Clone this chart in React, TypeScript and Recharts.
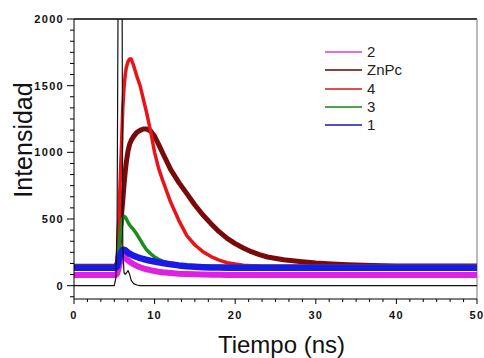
import React from 'react';
import { LineChart, Line, XAxis, YAxis, ReferenceLine } from 'recharts';

// time (ns)
const T = [0, 5.0, 5.2, 5.35, 5.5, 5.65, 5.8, 5.95, 6.05, 6.2, 6.35, 6.5, 6.7, 6.9, 7.1, 7.4, 7.8, 8.2, 8.6, 9.0, 9.5, 10, 10.5, 11, 12, 13, 14, 15, 16, 17, 18, 19, 20, 21, 22, 23, 24, 26, 28, 30, 32, 34, 37, 40, 45, 50];
// instrument response (black, not in legend)
const IRF = [0, 0, 60, 500, 2600, 2600, 2600, 2600, 300, 100, 85, 95, 113, 85, 40, 15, 5, 0, 0, 0, 0, 0, 0, 0, 0, 0, 0, 0, 0, 0, 0, 0, 0, 0, 0, 0, 0, 0, 0, 0, 0, 0, 0, 0, 0, 0];
// series "4"
const S4 = [146, 146, 150, 180, 350, 650, 900, 1150, 1330, 1480, 1580, 1640, 1680, 1700, 1700, 1650, 1570, 1500, 1400, 1300, 1160, 1000, 880, 790, 625, 490, 375, 305, 255, 218, 192, 172, 162, 154, 150, 147, 146, 146, 146, 146, 146, 146, 146, 146, 146, 146];
// series "ZnPc"
const ZNPC = [146, 146, 150, 165, 230, 330, 450, 570, 640, 750, 850, 930, 1010, 1060, 1090, 1120, 1150, 1165, 1175, 1175, 1160, 1120, 1060, 995, 870, 775, 690, 605, 530, 465, 405, 355, 315, 282, 255, 233, 215, 195, 182, 170, 162, 156, 151, 148, 147, 147];
// series "3"
const S3 = [146, 146, 150, 165, 230, 330, 420, 480, 505, 520, 515, 500, 475, 455, 440, 420, 385, 345, 305, 270, 240, 215, 198, 182, 162, 152, 148, 146, 146, 146, 146, 146, 146, 146, 146, 146, 146, 146, 146, 146, 146, 146, 146, 146, 146, 146];
// series "1"
const S1 = [135, 135, 136, 145, 175, 215, 245, 262, 268, 270, 266, 258, 248, 240, 233, 225, 215, 207, 200, 194, 187, 181, 175, 170, 160, 152, 146, 142, 139, 137, 136, 135, 135, 135, 135, 135, 135, 135, 135, 135, 135, 135, 135, 135, 135, 135];
// series "2"
const S2 = [80, 80, 81, 90, 120, 160, 195, 212, 218, 220, 212, 200, 190, 180, 172, 160, 148, 138, 130, 123, 116, 110, 105, 101, 95, 90, 87, 85, 83, 82, 81, 80, 80, 80, 80, 80, 80, 80, 80, 80, 80, 80, 80, 80, 80, 80];

const LEGEND_LABELS = ['2', 'ZnPc', '4', '3', '1'];
const LEGEND_COLORS = ['#e070e0', '#8a4040', '#e05050', '#50a050', '#5050c8'];

const X_TICKS = Array.from({ length: 31 }, (_, k) => (k * 10) / 6);
const Y_TICKS = Array.from({ length: 26 }, (_, k) => ((k - 1) * 500) / 6);

const data = T.map((t, i) => ({ t, irf: IRF[i], s4: S4[i], znpc: ZNPC[i], s3: S3[i], s1: S1[i], s2: S2[i] }));

const FONT = '"Liberation Sans", Arial, sans-serif';

const isMajor = (v: number, step: number) => Math.abs(v / step - Math.round(v / step)) < 1e-6;

const YTick = (props: any) => {
  const { x, y, payload } = props;
  const v = payload.value;
  const major = isMajor(v, 500);
  return (
    <g>
      <line x1={x - (major ? 7 : 4)} x2={x} y1={y} y2={y} stroke="#000" strokeWidth={1} />
      {major && (
        <text x={x - 10} y={y} dy="0.36em" textAnchor="end" fontFamily={FONT} fontWeight="bold" fontSize={11} letterSpacing={1.3} fill="#111">
          {Math.round(v)}
        </text>
      )}
    </g>
  );
};

const XTick = (props: any) => {
  const { x, y, payload } = props;
  const v = payload.value;
  const major = isMajor(v, 10);
  return (
    <g>
      <line x1={x} x2={x} y1={y} y2={y + (major ? 5 : 3)} stroke="#000" strokeWidth={1} />
      {major && (
        <text x={x} y={y + 20} textAnchor="middle" fontFamily={FONT} fontWeight="bold" fontSize={11} letterSpacing={1.3} fill="#111">
          {Math.round(v)}
        </text>
      )}
    </g>
  );
};

const XTitle = (props: any) => {
  const { x, y, width } = props.viewBox;
  return (
    <text x={x + width / 2 + 6} y={y + 54} textAnchor="middle" fontFamily={FONT} fontSize={24} fill="#111">
      Tiempo (ns)
    </text>
  );
};

const YTitle = (props: any) => {
  const { y, height } = props.viewBox;
  const cx = 32;
  const cy = y + height / 2 - 19;
  return (
    <text x={cx} y={cy} textAnchor="middle" transform={`rotate(-90, ${cx}, ${cy})`} fontFamily={FONT} fontSize={25} fill="#111">
      Intensidad
    </text>
  );
};

const LegendBox = () => (
  <div style={{ position: 'absolute', left: 325, top: 43, fontFamily: FONT, fontSize: 15, color: '#222' }}>
    {LEGEND_LABELS.map((lab, i) => (
      <div key={lab} style={{ display: 'flex', alignItems: 'center', height: 18.3 }}>
        <div style={{ width: 37, height: 2, background: LEGEND_COLORS[i] }} />
        <span style={{ marginLeft: 5, lineHeight: '18px' }}>{lab}</span>
      </div>
    ))}
  </div>
);

export default function App() {
  return (
    <div style={{ position: 'absolute', left: 0, top: 0, width: 484, height: 358, background: '#fff' }}>
      <LineChart width={484} height={358} data={data} margin={{ top: 19, right: 7, bottom: 0, left: 0 }}>
        <XAxis
          dataKey="t"
          type="number"
          domain={[0, 50]}
          ticks={X_TICKS}
          interval={0}
          height={59}
          tickSize={0}
          tickMargin={0}
          tickLine={false}
          tick={<XTick />}
          axisLine={{ stroke: '#000', strokeWidth: 1 }}
          label={{ content: XTitle } as any}
        />
        <YAxis
          type="number"
          domain={[-100, 2000]}
          allowDataOverflow
          ticks={Y_TICKS}
          interval={0}
          width={74}
          tickSize={0}
          tickMargin={0}
          tickLine={false}
          tick={<YTick />}
          axisLine={{ stroke: '#000', strokeWidth: 1 }}
          label={{ content: YTitle } as any}
        />
        <ReferenceLine y={2000} stroke="#000" strokeWidth={1.5} />
        <ReferenceLine x={50} stroke="#777" strokeWidth={1} />
        <Line dataKey="znpc" stroke="#7a0a0a" strokeWidth={5} dot={false} isAnimationActive={false} strokeLinejoin="round" />
        <Line dataKey="s4" stroke="#e8141a" strokeWidth={3.5} dot={false} isAnimationActive={false} strokeLinejoin="round" />
        <Line dataKey="s3" stroke="#1c8c1c" strokeWidth={3.5} dot={false} isAnimationActive={false} strokeLinejoin="round" />
        <Line dataKey="s2" stroke="#e020e0" strokeWidth={6} dot={false} isAnimationActive={false} strokeLinejoin="round" />
        <Line dataKey="s1" stroke="#1a1ae6" strokeWidth={6.5} dot={false} isAnimationActive={false} strokeLinejoin="round" />
        <Line dataKey="irf" stroke="#111" strokeWidth={1.2} dot={false} isAnimationActive={false} strokeLinejoin="round" />
      </LineChart>
      <LegendBox />
    </div>
  );
}
